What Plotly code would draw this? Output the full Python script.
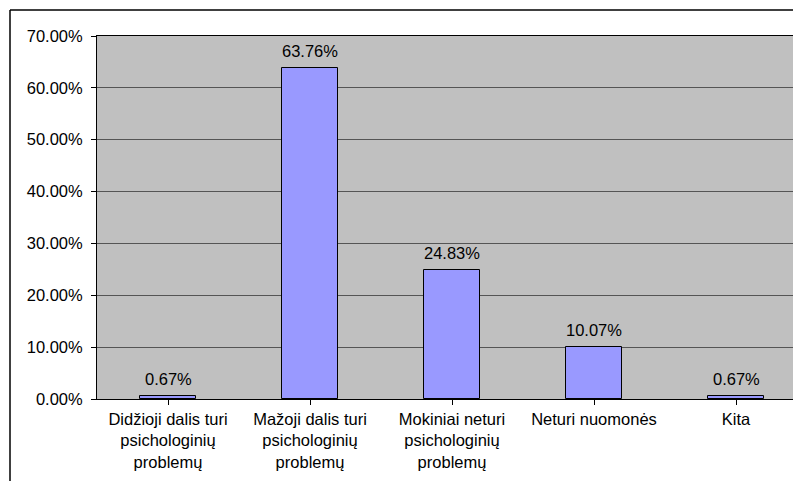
import plotly.graph_objects as go

categories = [
    "Didžioji dalis turi<br>psichologinių<br>problemų",
    "Mažoji dalis turi<br>psichologinių<br>problemų",
    "Mokiniai neturi<br>psichologinių<br>problemų",
    "Neturi nuomonės",
    "Kita",
]
values = [0.67, 63.76, 24.83, 10.07, 0.67]
labels = ["0.67%", "63.76%", "24.83%", "10.07%", "0.67%"]
y_ticks = [0, 10, 20, 30, 40, 50, 60, 70]
y_tick_text = ["0.00%", "10.00%", "20.00%", "30.00%", "40.00%", "50.00%", "60.00%", "70.00%"]

OFF = 8  # page body margin
EXTRA = 12
W, H = 801 - OFF + EXTRA, 481 - OFF
L, R, T, B = 97 - OFF, 0, 36 - OFF, 481 - 399
pw, ph = W - L - R, H - T - B

def px(x):
    return (x - OFF - L) / pw

def py(y):
    return (H - B - (y - OFF)) / ph

font = dict(family="Liberation Sans, Arial, sans-serif", size=16.5, color="black")

fig = go.Figure()
fig.add_trace(go.Bar(
    x=list(range(len(categories))), y=values, width=0.4,
    marker=dict(color="#9999FF", line=dict(color="black", width=1)),
    hoverinfo="skip",
))
for i, (v, t) in enumerate(zip(values, labels)):
    fig.add_annotation(x=i, y=v, text=t, showarrow=False, yanchor="bottom",
                       yshift=6, font=font)

fig.update_layout(
    width=W, height=H, autosize=False,
    margin=dict(l=L, r=R, t=T, b=B),
    paper_bgcolor="white", plot_bgcolor="#C0C0C0",
    showlegend=False, font=font, bargap=0,
    xaxis=dict(
        range=[-0.5, -0.5 + pw / 142.0], tickmode="array",
        tickvals=list(range(len(categories))), ticktext=categories,
        ticks="outside", ticklen=5, tickcolor="black", tickson="boundaries",
        showgrid=False, showline=True, linecolor="black", linewidth=1,
        mirror=True, zeroline=False, tickfont=font, fixedrange=True,
    ),
    yaxis=dict(
        range=[0, 70], tickmode="array", tickvals=y_ticks, ticktext=y_tick_text,
        ticks="outside", ticklen=5, tickcolor="black", ticklabelstandoff=5,
        showgrid=True, gridcolor="#555555", gridwidth=1,
        showline=True, linecolor="black", linewidth=1,
        zeroline=False, tickfont=font, fixedrange=True,
    ),
    shapes=[
        dict(type="line", xref="paper", yref="paper",
             x0=px(10), x1=px(10), y0=py(10), y1=py(490),
             line=dict(color="black", width=1.5)),
        dict(type="line", xref="paper", yref="paper",
             x0=px(10), x1=px(820), y0=py(10), y1=py(10),
             line=dict(color="black", width=1.5)),
    ],
)

fig.write_html(
    "out.html",
    post_script="document.body.style.overflow='hidden';document.documentElement.style.overflow='hidden';",
)
